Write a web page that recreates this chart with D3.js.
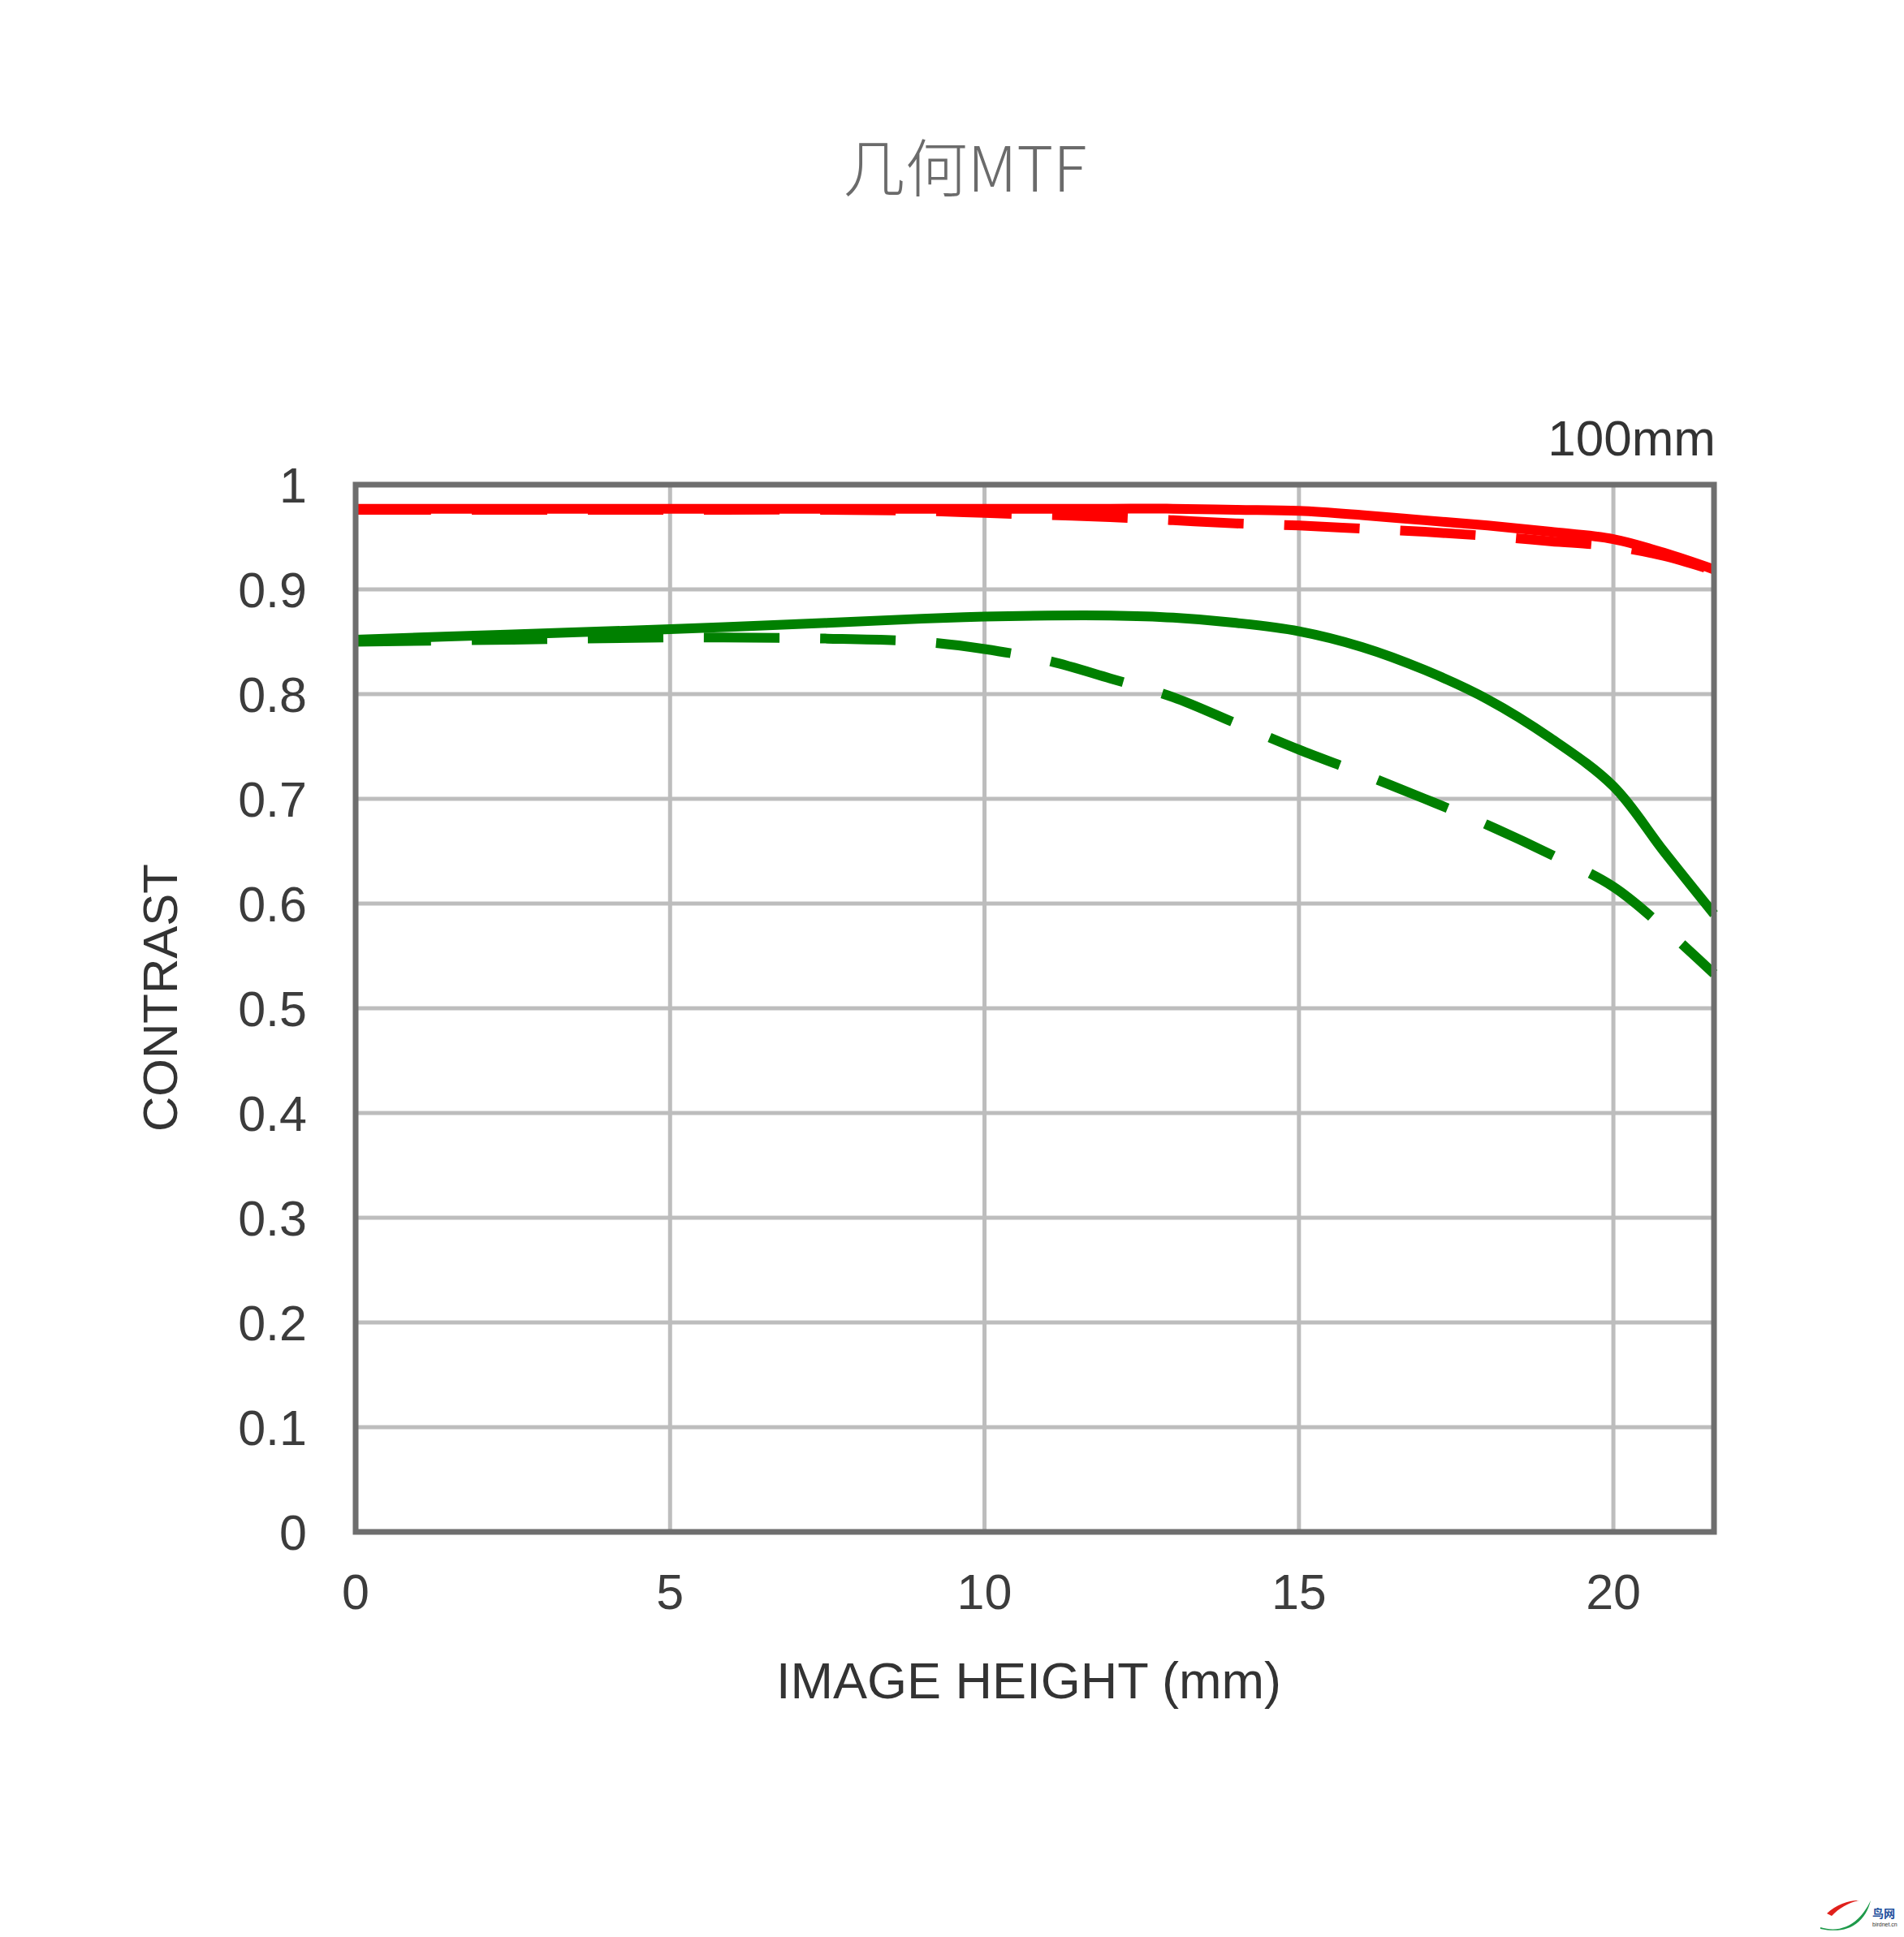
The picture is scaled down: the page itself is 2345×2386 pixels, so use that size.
<!DOCTYPE html>
<html>
<head>
<meta charset="utf-8">
<script src="https://cdn.jsdelivr.net/npm/d3@7"></script>
<style>
  html, body { margin: 0; padding: 0; background: #fff; }
  svg { display: block; }
</style>
</head>
<body>
<svg></svg>
<script>
// image height (mm) where the curves were read
const heights = [0, 2.5, 5, 7.5, 9, 10, 11, 12, 13, 14, 15, 16, 17, 18, 19, 20, 20.8, 21.6];
const redSolid = [0.977, 0.977, 0.977, 0.977, 0.977, 0.977, 0.977, 0.977, 0.977, 0.976, 0.975, 0.971, 0.966, 0.961, 0.955, 0.948, 0.935, 0.919];
const redDashed = [0.976, 0.976, 0.976, 0.976, 0.975, 0.973, 0.971, 0.969, 0.966, 0.963, 0.961, 0.958, 0.955, 0.951, 0.946, 0.941, 0.932, 0.918];
const greenSolid = [0.852, 0.857, 0.862, 0.868, 0.872, 0.874, 0.875, 0.875, 0.873, 0.868, 0.860, 0.845, 0.823, 0.795, 0.758, 0.712, 0.650, 0.590];
const greenDashed = [0.850, 0.852, 0.854, 0.853, 0.850, 0.843, 0.832, 0.815, 0.797, 0.772, 0.747, 0.724, 0.700, 0.675, 0.647, 0.616, 0.577, 0.533];

const xTicks = [0, 5, 10, 15, 20];
const yTicks = [0, 0.1, 0.2, 0.3, 0.4, 0.5, 0.6, 0.7, 0.8, 0.9, 1];

const svg = d3.select("svg").attr("width", 2345).attr("height", 2386);

const x = d3.scaleLinear().domain([0, 21.6]).range([438, 2111]);
const y = d3.scaleLinear().domain([0, 1]).range([1887, 597]);

const font = "'Liberation Sans', Arial, sans-serif";

// title
svg.append("text")
	.attr("x", 1188).attr("y", 236)
	.attr("text-anchor", "middle")
	.style("font-family", "'Noto Sans CJK SC', 'Noto Sans', sans-serif")
	.style("font-weight", 300)
	.style("font-size", "77px")
	.style("fill", "#6b6b6b")
	.text("几何MTF");

// grid
const grid = svg.append("g");
grid.selectAll("line.h")
	.data(yTicks.filter((d) => d > 0 && d < 1))
	.enter().append("line")
	.attr("x1", x(0)).attr("x2", x(21.6))
	.attr("y1", (d) => y(d)).attr("y2", (d) => y(d))
	.style("stroke", "#bdbdbd").style("stroke-width", 5);
grid.selectAll("line.v")
	.data(xTicks.filter((d) => d > 0))
	.enter().append("line")
	.attr("x1", (d) => x(d)).attr("x2", (d) => x(d))
	.attr("y1", y(0)).attr("y2", y(1))
	.style("stroke", "#bdbdbd").style("stroke-width", 5);

// curves
const line = (vals) => d3.line()
	.x((d, i) => x(heights[i]))
	.y((d) => y(d))
	.curve(d3.curveCatmullRom.alpha(0.5))(vals);

const series = [
	{ vals: greenDashed, color: "#008000", dash: "93,50" },
	{ vals: greenSolid, color: "#008000", dash: null },
	{ vals: redDashed, color: "#ff0000", dash: "93,50" },
	{ vals: redSolid, color: "#ff0000", dash: null }
];
svg.append("g").selectAll("path")
	.data(series)
	.enter().append("path")
	.attr("d", (d) => line(d.vals))
	.style("fill", "none")
	.style("stroke", (d) => d.color)
	.style("stroke-width", 12)
	.style("stroke-dasharray", (d) => d.dash);

// frame
svg.append("rect")
	.attr("x", x(0)).attr("y", y(1))
	.attr("width", x(21.6) - x(0)).attr("height", y(0) - y(1))
	.style("fill", "none")
	.style("stroke", "#6e6e6e")
	.style("stroke-width", 7);

// y tick labels
svg.append("g").selectAll("text")
	.data(yTicks)
	.enter().append("text")
	.attr("x", 378).attr("y", (d) => y(d))
	.attr("dy", "0.36em")
	.attr("text-anchor", "end")
	.style("font-family", font)
	.style("font-size", "61px")
	.style("fill", "#3c3c3c")
	.text((d) => d3.format("~g")(d));

// x tick labels
svg.append("g").selectAll("text")
	.data(xTicks)
	.enter().append("text")
	.attr("x", (d) => x(d)).attr("y", 1982)
	.attr("text-anchor", "middle")
	.style("font-family", font)
	.style("font-size", "61px")
	.style("fill", "#3c3c3c")
	.text((d) => d);

// axis titles
svg.append("text")
	.attr("x", 1267).attr("y", 2092)
	.attr("text-anchor", "middle")
	.style("font-family", font)
	.style("font-size", "63px")
	.style("fill", "#333")
	.text("IMAGE HEIGHT (mm)");

svg.append("text")
	.attr("transform", "translate(218,1229) rotate(-90)")
	.attr("text-anchor", "middle")
	.style("font-family", font)
	.style("font-size", "60px")
	.style("fill", "#333")
	.text("CONTRAST");

svg.append("text")
	.attr("x", 2113).attr("y", 561)
	.attr("text-anchor", "end")
	.style("font-family", font)
	.style("font-size", "62px")
	.style("fill", "#333")
	.text("100mm");

// watermark
const mark = svg.append("g");
mark.append("path")
	.attr("d", "M2250,2357 C2262,2345 2280,2340 2290,2341 C2278,2343 2265,2350 2256,2360 Z")
	.style("fill", "#e0201b");
mark.append("path")
	.attr("d", "M2242,2374 C2268,2382 2290,2370 2304,2341 C2298,2365 2280,2384 2242,2376 Z")
	.style("fill", "#1e9a4a");
mark.append("text")
	.attr("x", 2306).attr("y", 2362)
	.style("font-family", "'Noto Sans CJK SC', sans-serif")
	.style("font-size", "14px")
	.style("font-weight", "bold")
	.style("fill", "#1d4f9c")
	.text("鸟网");
mark.append("text")
	.attr("x", 2306).attr("y", 2373)
	.style("font-family", font)
	.style("font-size", "7px")
	.style("fill", "#333")
	.text("birdnet.cn");
</script>
</body>
</html>
